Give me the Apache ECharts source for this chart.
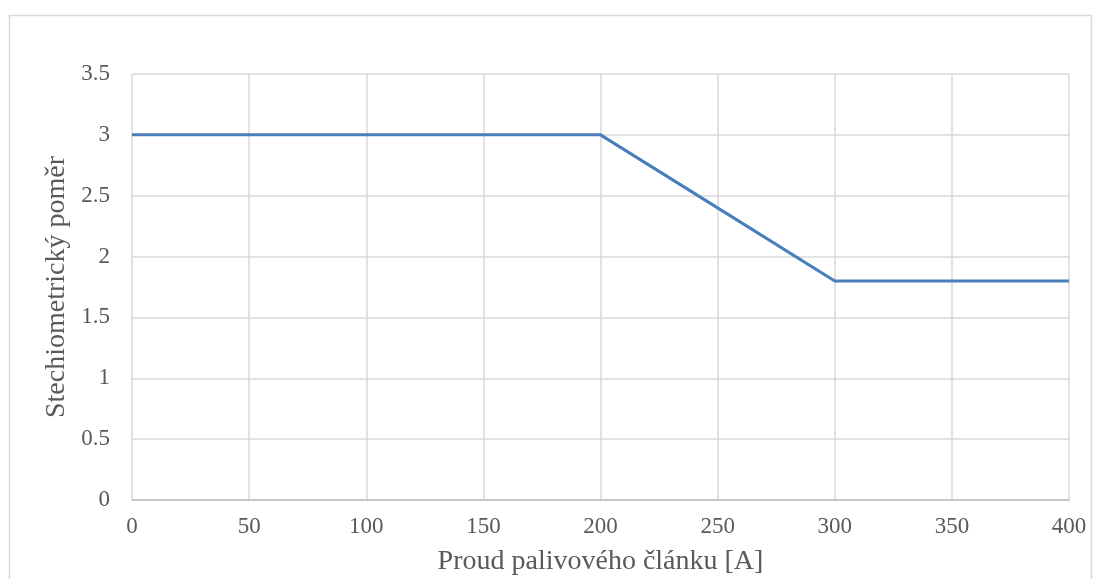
<!DOCTYPE html>
<html><head><meta charset="utf-8">
<script src="https://cdn.jsdelivr.net/npm/echarts@6/dist/echarts.min.js"></script>
<style>html,body{margin:0;padding:0;background:#fff}#c{width:1102px;height:579px}</style>
</head><body><div id="c"></div>
<script>
const currentA = [0, 50, 100, 150, 200, 250, 300, 350, 400];
const stoichRatio = [3, 3, 3, 3, 3, 2.4, 1.8, 1.8, 1.8];
const xTitle = 'Proud palivového článku [A]';
const yTitle = 'Stechiometrický poměr';

const chart = echarts.init(document.getElementById('c'));
const font = 'Liberation Serif, Times New Roman, serif';
chart.setOption({
  animation: false,
  backgroundColor: '#fff',
  graphic: [{type:'rect', shape:{x:9.5,y:15.5,width:1082,height:600}, style:{fill:'none', stroke:'#d9d9d9', lineWidth:1.5}, silent:true}],
  grid: {left:132, top:74, width:937, height:426, containLabel:false, outerBoundsMode:'none'},
  xAxis: {
    type:'value', min:0, max:400, interval:50,
    name: xTitle, nameLocation:'middle', nameGap:48,
    nameTextStyle:{fontFamily:font, fontSize:28, color:'#595959'},
    axisLine:{show:true, lineStyle:{color:'#bfbfbf', width:1.5}},
    axisTick:{show:false},
    axisLabel:{fontFamily:font, fontSize:23, color:'#595959', margin:15},
    splitLine:{show:true, lineStyle:{color:'#d9d9d9', width:1.5}}
  },
  yAxis: {
    type:'value', min:0, max:3.5, interval:0.5,
    name: yTitle, nameLocation:'middle', nameGap:56,
    nameTextStyle:{fontFamily:font, fontSize:28, color:'#595959'},
    axisLine:{show:false},
    axisTick:{show:false},
    axisLabel:{fontFamily:font, fontSize:23, color:'#595959', margin:22},
    splitLine:{show:true, lineStyle:{color:'#d9d9d9', width:1.5}}
  },
  series: [{
    type:'line', data: currentA.map((x,i)=>[x, stoichRatio[i]]),
    showSymbol:false, lineStyle:{color:'#4a7ebb', width:3}, itemStyle:{color:'#4a7ebb'}
  }]
});
</script></body></html>
